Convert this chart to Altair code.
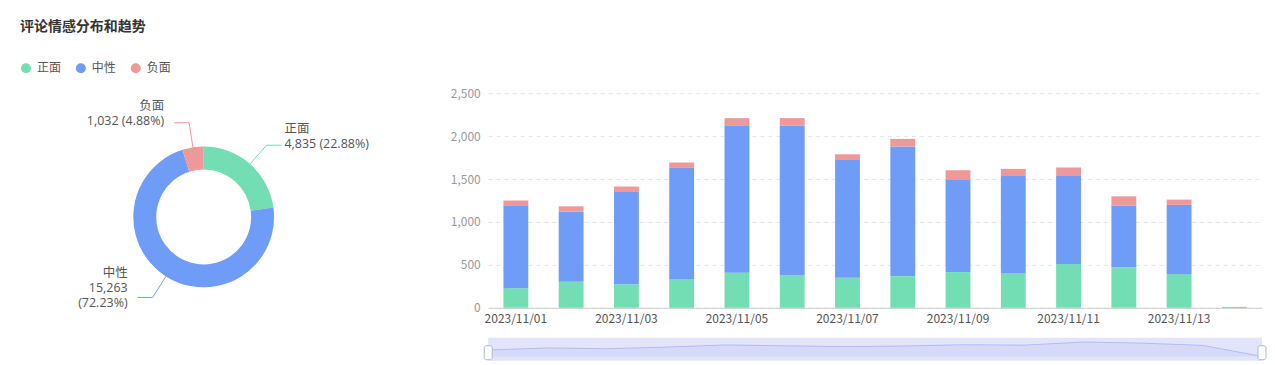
import math
import altair as alt
import pandas as pd

FONT = "Noto Sans CJK SC"
LAB_FONT = "Open Sans, Noto Sans CJK SC"

title_text = "评论情感分布和趋势"
categories = ["正面", "中性", "负面"]
colors = ["#73DEB3", "#6F9CF6", "#EE9899"]
pie_vals = [4835, 15263, 1032]

dates = ["2023/11/01", "2023/11/02", "2023/11/03", "2023/11/04", "2023/11/05",
         "2023/11/06", "2023/11/07", "2023/11/08", "2023/11/09", "2023/11/10",
         "2023/11/11", "2023/11/12", "2023/11/13", "2023/11/14"]
pos_vals = [229, 302, 275, 334, 407, 376, 350, 369, 416, 400, 510, 471, 392, 4]
neu_vals = [964, 820, 1073, 1295, 1711, 1746, 1371, 1510, 1072, 1135, 1033, 720, 807, 6]
neg_vals = [56, 60, 64, 63, 91, 87, 67, 88, 114, 83, 91, 107, 61, 0]
tick_dates = ["2023/11/01", "2023/11/03", "2023/11/05", "2023/11/07",
              "2023/11/09", "2023/11/11", "2023/11/13"]
y_ticks = [0, 500, 1000, 1500, 2000, 2500]

# ---------- layout constants (style) ----------
LEFT_W, PANEL_H = 469, 215
BAR_W = 775
CX, CY, R_OUT, R_IN = 184, 124, 70.5, 47.5
L1, L2 = 25, 15

color_scale = alt.Scale(domain=categories, range=colors)
leg = alt.Legend(orient="none", legendX=0, legendY=-31, direction="horizontal",
                 title=None, symbolType="circle", symbolSize=100, symbolStrokeWidth=0,
                 labelFontSize=12, labelColor="#555", labelFont=FONT,
                 columnPadding=13, labelOffset=5, padding=0)

# ---------- pie tables ----------
total = sum(pie_vals)
pie_df = pd.DataFrame({"cat": categories, "value": pie_vals, "idx": range(3)})
line_rows, lab_rows = [], []
cum = 0
for c, v in zip(categories, pie_vals):
    mid = (cum + v / 2) / total
    cum += v
    a = 2 * math.pi * mid
    s, co = math.sin(a), math.cos(a)
    p0 = (CX + R_OUT * s, CY - R_OUT * co)
    p1 = (CX + (R_OUT + L1) * s, CY - (R_OUT + L1) * co)
    side = 1 if s >= 0 else -1
    p2 = (p1[0] + side * L2, p1[1])
    for k, p in enumerate([p0, p1, p2]):
        line_rows.append({"cat": c, "k": k, "x": p[0], "y": p[1]})
    pct = v / total * 100
    t2 = f"{v:,} ({pct:.2f}%)"
    lines = [c, t2] if len(t2) <= 14 else [c, f"{v:,}", f"({pct:.2f}%)"]
    n = len(lines)
    yc = p2[1] - 9
    tx = p2[0] + 3 if side > 0 else p2[0] - 10
    for j, t in enumerate(lines):
        lab_rows.append({"cat": c, "text": t, "x": tx,
                         "y": yc + (j - (n - 1) / 2) * 15,
                         "side": "right" if side > 0 else "left"})
line_df = pd.DataFrame(line_rows)
lab_df = pd.DataFrame(lab_rows)

arc = alt.Chart(pie_df).mark_arc(outerRadius=R_OUT, innerRadius=R_IN).encode(
    theta=alt.Theta("value:Q", stack=True),
    color=alt.Color("cat:N", scale=color_scale, legend=leg),
    order=alt.Order("idx:Q"),
    x=alt.value(CX), y=alt.value(CY),
)
leader = alt.Chart(line_df).mark_line(strokeWidth=1).encode(
    x=alt.X("x:Q", scale=None, axis=None),
    y=alt.Y("y:Q", scale=None, axis=None),
    stroke=alt.Stroke("cat:N", scale=color_scale, legend=None),
    detail="cat:N",
    order=alt.Order("k:Q"),
)
lab_r = alt.Chart(lab_df).transform_filter(alt.datum.side == "right").mark_text(
    align="left", baseline="middle", fontSize=12.5, color="#555", font=LAB_FONT
).encode(x=alt.X("x:Q", scale=None, axis=None), y=alt.Y("y:Q", scale=None, axis=None), text="text:N")
lab_l = alt.Chart(lab_df).transform_filter(alt.datum.side == "left").mark_text(
    align="right", baseline="middle", fontSize=12.5, color="#555", font=LAB_FONT
).encode(x=alt.X("x:Q", scale=None, axis=None), y=alt.Y("y:Q", scale=None, axis=None), text="text:N")

left = alt.layer(arc, leader, lab_r, lab_l).properties(width=LEFT_W, height=PANEL_H)

# ---------- stacked bars ----------
rows = []
for i, d in enumerate(dates):
    for j, (c, arr) in enumerate(zip(categories, [pos_vals, neu_vals, neg_vals])):
        rows.append({"date": d, "cat": c, "value": arr[i], "idx": j})
bar_df = pd.DataFrame(rows)

bars = alt.Chart(bar_df).mark_bar().encode(
    x=alt.X("date:N", sort=dates,
            scale=alt.Scale(paddingInner=0.55, paddingOuter=0.275),
            axis=alt.Axis(title=None, values=tick_dates, labelAngle=0, ticks=False,
                          domainColor="#CCCCCC", labelColor="#555", labelPadding=6,
                          labelFontSize=12, labelFont=FONT, grid=False)),
    y=alt.Y("value:Q", stack="zero", scale=alt.Scale(domain=[0, 2500], nice=False),
            axis=alt.Axis(title=None, values=y_ticks, format=",d", domain=False, ticks=False,
                          gridDash=[4, 4], gridColor="#E0E6F1", labelColor="#999",
                          labelPadding=8, labelFontSize=12, labelFont=FONT)),
    color=alt.Color("cat:N", scale=color_scale, legend=leg),
    order=alt.Order("idx:Q"),
).properties(width=BAR_W, height=PANEL_H)

# ---------- data-zoom style slider (shadow of first series) ----------
mn, mx = min(pos_vals), max(pos_vals)
off = (mx - mn) * 0.3
slider_df = pd.DataFrame({"i": list(range(len(dates))), "v": pos_vals})
handle_df = pd.DataFrame({"i": [0, len(dates) - 1]})
SL_H = 23
shadow = alt.Chart(slider_df).mark_area(
    color="#D2D6F7", line={"color": "#B4BCEE", "strokeWidth": 1}
).encode(
    x=alt.X("i:Q", scale=alt.Scale(domain=[0, len(dates) - 1], nice=False, zero=False), axis=None),
    y=alt.Y("v:Q", scale=alt.Scale(domain=[mn - off, mx + off], nice=False, zero=False), axis=None),
    y2=alt.value(SL_H),
)
handles = alt.Chart(handle_df).mark_tick(
    thickness=8, size=14, color="white", stroke="#ACB8D1", strokeWidth=1,
    cornerRadius=2, opacity=1, filled=True
).encode(
    x=alt.X("i:Q", scale=alt.Scale(domain=[0, len(dates) - 1], nice=False, zero=False), axis=None),
    y=alt.value(15),
)
slider = alt.layer(shadow, handles).properties(
    width=BAR_W, height=SL_H, view=alt.ViewBackground(fill="#E1E4FA", stroke=None)
)

right = alt.vconcat(bars, slider, spacing=30, bounds="flush")

chart = alt.hconcat(left, right, spacing=0, bounds="flush").properties(
    title=alt.TitleParams(text=title_text, anchor="start", fontSize=14, fontWeight="bold",
                          color="#333", font=FONT, offset=28),
    padding={"left": 12, "top": 12, "right": 0, "bottom": 0},
).resolve_scale(color="shared").configure_view(stroke=None).configure_text(font=FONT)

chart.save("out.html", embed_options={"renderer": "svg", "actions": False})
